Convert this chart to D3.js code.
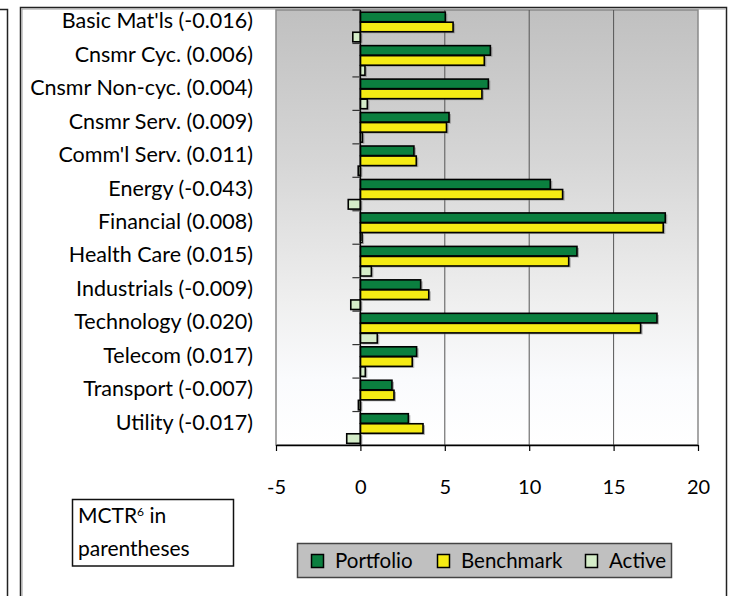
<!DOCTYPE html>
<meta charset="utf-8">
<style>
  body { margin: 0; background: #fff; }
  svg text { font-family: Lato, "Open Sans", sans-serif; fill: #000; }
</style>
<svg width="731" height="596"></svg>
<script src="https://cdn.jsdelivr.net/npm/d3@7"></script>
<script>

// sector names and their MCTR values (shown in parentheses)
var sectors = ["Basic Mat'ls", "Cnsmr Cyc.", "Cnsmr Non-cyc.", "Cnsmr Serv.", "Comm'l Serv.",
               "Energy", "Financial", "Health Care", "Industrials", "Technology",
               "Telecom", "Transport", "Utility"];
var mctr = ["-0.016", "0.006", "0.004", "0.009", "0.011", "-0.043", "0.008",
            "0.015", "-0.009", "0.020", "0.017", "-0.007", "-0.017"];

// weights in %
var portfolio = [5.03, 7.70, 7.58, 5.25, 3.17, 11.25, 18.06, 12.83, 3.57, 17.57, 3.33, 1.87, 2.84];
var benchmark = [5.49, 7.34, 7.20, 5.10, 3.31, 11.98, 17.94, 12.34, 4.05, 16.60, 3.07, 1.99, 3.71];
var active    = [-0.45, 0.27, 0.41, 0.12, -0.13, -0.72, 0.10, 0.65, -0.57, 1.00, 0.29, -0.12, -0.81];

var seriesNames = ["Portfolio", "Benchmark", "Active"];
var seriesColors = ["#0b7f3f", "#f5eb14", "#d4ecc8"];
var xTicks = [-5, 0, 5, 10, 15, 20];

var svg = d3.select("svg");

var plot = {left: 276, right: 698, top: 10, bottom: 445};

var x = d3.scaleLinear()
    .domain([-5, 20])
    .range([plot.left, plot.right]);

var y = d3.scaleBand()
    .domain(sectors)
    .range([plot.top, plot.bottom])
    .paddingInner(0.1)
    .paddingOuter(0.05);

var ySub = d3.scaleBand()
    .domain(seriesNames)
    .range([0, y.bandwidth()]);

var color = d3.scaleOrdinal().domain(seriesNames).range(seriesColors);

var rows = sectors.map(function(s, i) {
  return {sector: s, mctr: mctr[i], values: [portfolio[i], benchmark[i], active[i]]};
});

/*
 * Frames: edge of the neighbouring box and the chart frame.
 */
svg.append("path")
    .attr("d", "M0,9.5H7.5V596")
    .attr("fill", "none")
    .attr("stroke", "#222")
    .attr("stroke-width", 1.5);

svg.append("rect")
    .attr("x", 20.5).attr("y", 7.5)
    .attr("width", 706).attr("height", 620)
    .attr("fill", "#fff")
    .attr("stroke", "#222")
    .attr("stroke-width", 1.5);
svg.append("path")
    .attr("d", "M22,620V9H725")
    .attr("fill", "none")
    .attr("stroke", "#999")
    .attr("stroke-width", 1);

/*
 * Plot area with gradient fill.
 */
var grad = svg.append("defs").append("linearGradient")
    .attr("id", "bg")
    .attr("x1", 0).attr("y1", 0).attr("x2", 0).attr("y2", 1);
[[0, "#c0c0c0"], [0.35, "#d6d6d6"], [0.67, "#efefef"], [0.85, "#fafbfd"], [1, "#ffffff"]]
  .forEach(function(s) {
    grad.append("stop").attr("offset", s[0]).attr("stop-color", s[1]);
  });

svg.append("rect")
    .attr("x", plot.left).attr("y", plot.top)
    .attr("width", plot.right - plot.left)
    .attr("height", plot.bottom - plot.top)
    .attr("fill", "url(#bg)")
    .attr("stroke", "#8a8a8a")
    .attr("stroke-width", 1.5);

// vertical gridlines
svg.append("g")
  .selectAll("line")
  .data(xTicks.filter(function(d) { return d > 0 && d < 20; }))
  .enter().append("line")
    .attr("x1", function(d) { return x(d); })
    .attr("x2", function(d) { return x(d); })
    .attr("y1", plot.top)
    .attr("y2", plot.bottom)
    .attr("stroke", "#555")
    .attr("stroke-width", 1);

/*
 * Bars with a small drop shadow.
 */
var groups = svg.append("g")
  .selectAll("g")
  .data(rows)
  .enter().append("g")
    .attr("transform", function(d) { return "translate(0," + y(d.sector) + ")"; });

var bars = groups.selectAll("g")
  .data(function(d) {
    return d.values.map(function(v, i) { return {key: seriesNames[i], value: v}; });
  })
  .enter().append("g");

bars.append("rect")
    .attr("x", function(d) { return Math.min(x(0), x(d.value)) + 2; })
    .attr("y", function(d) { return ySub(d.key) + 2; })
    .attr("width", function(d) { return Math.abs(x(d.value) - x(0)); })
    .attr("height", ySub.bandwidth() - 0.5)
    .attr("fill", "#777")
    .attr("opacity", 0.55);

bars.append("rect")
    .attr("x", function(d) { return Math.min(x(0), x(d.value)); })
    .attr("y", function(d) { return ySub(d.key) + 0.5; })
    .attr("width", function(d) { return Math.abs(x(d.value) - x(0)); })
    .attr("height", ySub.bandwidth() - 0.5)
    .attr("fill", function(d) { return color(d.key); })
    .attr("stroke", "#000")
    .attr("stroke-width", 1.6);

/*
 * Category axis at zero, with ticks between categories.
 */
var yAxis = svg.append("g");
yAxis.append("line")
    .attr("x1", x(0)).attr("x2", x(0))
    .attr("y1", plot.top).attr("y2", plot.bottom)
    .attr("stroke", "#000")
    .attr("stroke-width", 1.5);
yAxis.selectAll(".tick")
  .data(sectors)
  .enter().append("line")
    .attr("x1", x(0) - 8).attr("x2", x(0))
    .attr("y1", function(d) { return y(d) - y.step() * 0.05; })
    .attr("y2", function(d) { return y(d) - y.step() * 0.05; })
    .attr("stroke", "#333")
    .attr("stroke-width", 1.2);

// category labels, outside the plot on the left
svg.append("g")
  .selectAll("text")
  .data(rows)
  .enter().append("text")
    .attr("x", 253)
    .attr("y", function(d) { return y(d.sector) + y.bandwidth() / 2 + 1.5; })
    .attr("text-anchor", "end")
    .style("font-size", "21.5px")
    .text(function(d) { return d.sector + " (" + d.mctr + ")"; });

/*
 * Value axis at the bottom.
 */
var xAxis = svg.append("g")
    .attr("transform", "translate(0," + plot.bottom + ")")
    .call(d3.axisBottom(x)
      .tickValues(xTicks)
      .tickFormat(function(d) { return String(d); })
      .tickSize(6).tickPadding(29).tickSizeOuter(0));
xAxis.select(".domain").attr("stroke", "#000").attr("stroke-width", 1.5);
xAxis.selectAll(".tick line").attr("stroke", "#000").attr("stroke-width", 1.2);
xAxis.selectAll(".tick text")
    .style("font-family", "Lato, 'Open Sans', sans-serif")
    .style("font-size", "20px")
    .attr("fill", "#000");

/*
 * Note box.
 */
svg.append("rect")
    .attr("x", 72.5).attr("y", 499.5)
    .attr("width", 161).attr("height", 66.5)
    .attr("fill", "#fff")
    .attr("stroke", "#111")
    .attr("stroke-width", 1.5);
var note = svg.append("text")
    .attr("x", 78).attr("y", 523)
    .style("font-size", "21px");
note.append("tspan").text("MCTR");
note.append("tspan").attr("baseline-shift", "super").style("font-size", "12px").text("6");
note.append("tspan").text(" in");
svg.append("text")
    .attr("x", 78).attr("y", 556)
    .style("font-size", "21px")
    .text("parentheses");

/*
 * Legend.
 */
svg.append("rect")
    .attr("x", 297.5).attr("y", 543.5)
    .attr("width", 374).attr("height", 34)
    .attr("fill", "#c0c0c0")
    .attr("stroke", "#444")
    .attr("stroke-width", 1.5);

var legendX = [311, 437, 585];
var legend = svg.append("g")
  .selectAll("g")
  .data(seriesNames)
  .enter().append("g")
    .attr("transform", function(d, i) { return "translate(" + legendX[i] + ",0)"; });

legend.append("rect")
    .attr("x", 0.5).attr("y", 554.5)
    .attr("width", 12).attr("height", 13)
    .attr("fill", color)
    .attr("stroke", "#000")
    .attr("stroke-width", 1.5);

legend.append("text")
    .attr("x", 24)
    .attr("y", 568)
    .style("font-size", "20.5px")
    .text(function(d) { return d; });
</script>
